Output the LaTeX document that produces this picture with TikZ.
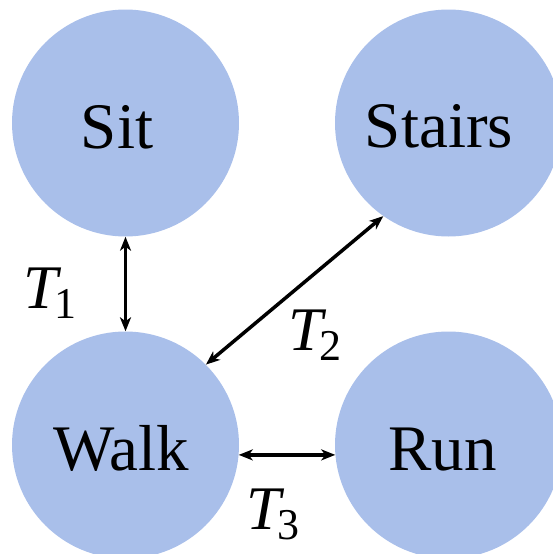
\documentclass[tikz,border=0pt]{standalone}
\usepackage{fontspec}
\setmainfont{Liberation Serif}
\usetikzlibrary{arrows.meta}
\definecolor{circfill}{RGB}{169,191,234}
\newcommand{\Tsub}[1]{{\itshape T}\kern-3pt\raisebox{-10pt}{\fontsize{44}{44}\selectfont #1}}
\begin{document}
\begin{tikzpicture}[x=1pt,y=-1pt,
  state/.style={circle,fill=circfill,draw=none,minimum size=227pt,inner sep=0pt},
  nametext/.style={anchor=base,inner sep=0pt,font=\fontsize{65}{70}\selectfont},
  tlabel/.style={anchor=base west,inner sep=0pt,font=\fontsize{62}{66}\selectfont},
  link/.style={line width=3.5pt,{Stealth[length=14pt,width=11pt,inset=4pt]}-{Stealth[length=14pt,width=11pt,inset=4pt]}}]
\useasboundingbox (0,0) rectangle (553,554);
\node[state] (sit) at (125.5,123) {};
\node[state] (stairs) at (448.5,123) {};
\node[state] (walk) at (125.5,445) {};
\node[state] (run) at (448.5,445) {};
\node[nametext] (sittext) at (117,148) {Sit};
\node[nametext] (stairstext) at (439,147.5) {Stairs};
\node[nametext] (walktext) at (121,470) {Walk};
\node[nametext] (runtext) at (442.5,470) {Run};
\draw[link] (sit.south) -- (walk.north);
\draw[link] (walk.45) -- (stairs.235);
\draw[link] (walk.-5.3) -- (run.185.3);
\node[tlabel] (t1) at (23,308) {\Tsub{1}};
\node[tlabel] (t2) at (288,350) {\Tsub{2}};
\node[tlabel] (t3) at (246,529) {\Tsub{3}};
\end{tikzpicture}
\end{document}
